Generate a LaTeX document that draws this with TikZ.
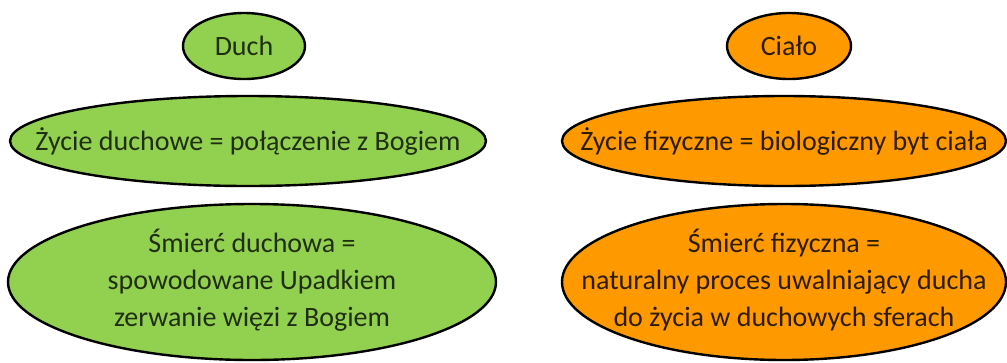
\documentclass[tikz,border=0pt]{standalone}
\usepackage{fontspec}
\setmainfont{Carlito}

\definecolor{duchgreen}{HTML}{92D050}
\definecolor{cialoorange}{HTML}{FF9900}

\tikzset{
  blob/.style={draw=black, line width=2.4pt},
  duchblob/.style={blob, fill=duchgreen},
  cialoblob/.style={blob, fill=cialoorange},
  txt/.style={inner sep=0pt, align=center, font=\fontsize{28}{37}\selectfont},
  duch/.style={txt, text=duchgreen!22!black},
  cialo/.style={txt, text=cialoorange!18!black}
}

\begin{document}
\begin{tikzpicture}[x=1pt,y=-1pt]
\useasboundingbox (0,0) rectangle (1007,362);
% left column
\draw [duchblob] (244,46) ellipse [x radius=61, y radius=33];
\node [duch] (duch) at (244,46) {Duch};
\draw [duchblob] (248,141) ellipse [x radius=238, y radius=45];
\node [duch] (zycieD) at (248,141) {Życie duchowe = połączenie z Bogiem};
\draw [duchblob] (252,282) ellipse [x radius=244, y radius=78];
\node [duch] (smiercD) at (252,280)
  {Śmierć duchowa =\\spowodowane Upadkiem\\zerwanie więzi z Bogiem};
% right column
\draw [cialoblob] (789,46) ellipse [x radius=62, y radius=33];
\node [cialo] (cialo) at (789,46) {Ciało};
\draw [cialoblob] (784,141) ellipse [x radius=222, y radius=45];
\node [cialo] (zycieC) at (784,141) {Życie fizyczne = biologiczny byt ciała};
\draw [cialoblob] (784,282) ellipse [x radius=222, y radius=78];
\node [cialo] (smiercC) at (784,280)
  {Śmierć fizyczna =\\naturalny proces uwalniający ducha\\do życia w duchowych sferach};
\end{tikzpicture}
\end{document}
